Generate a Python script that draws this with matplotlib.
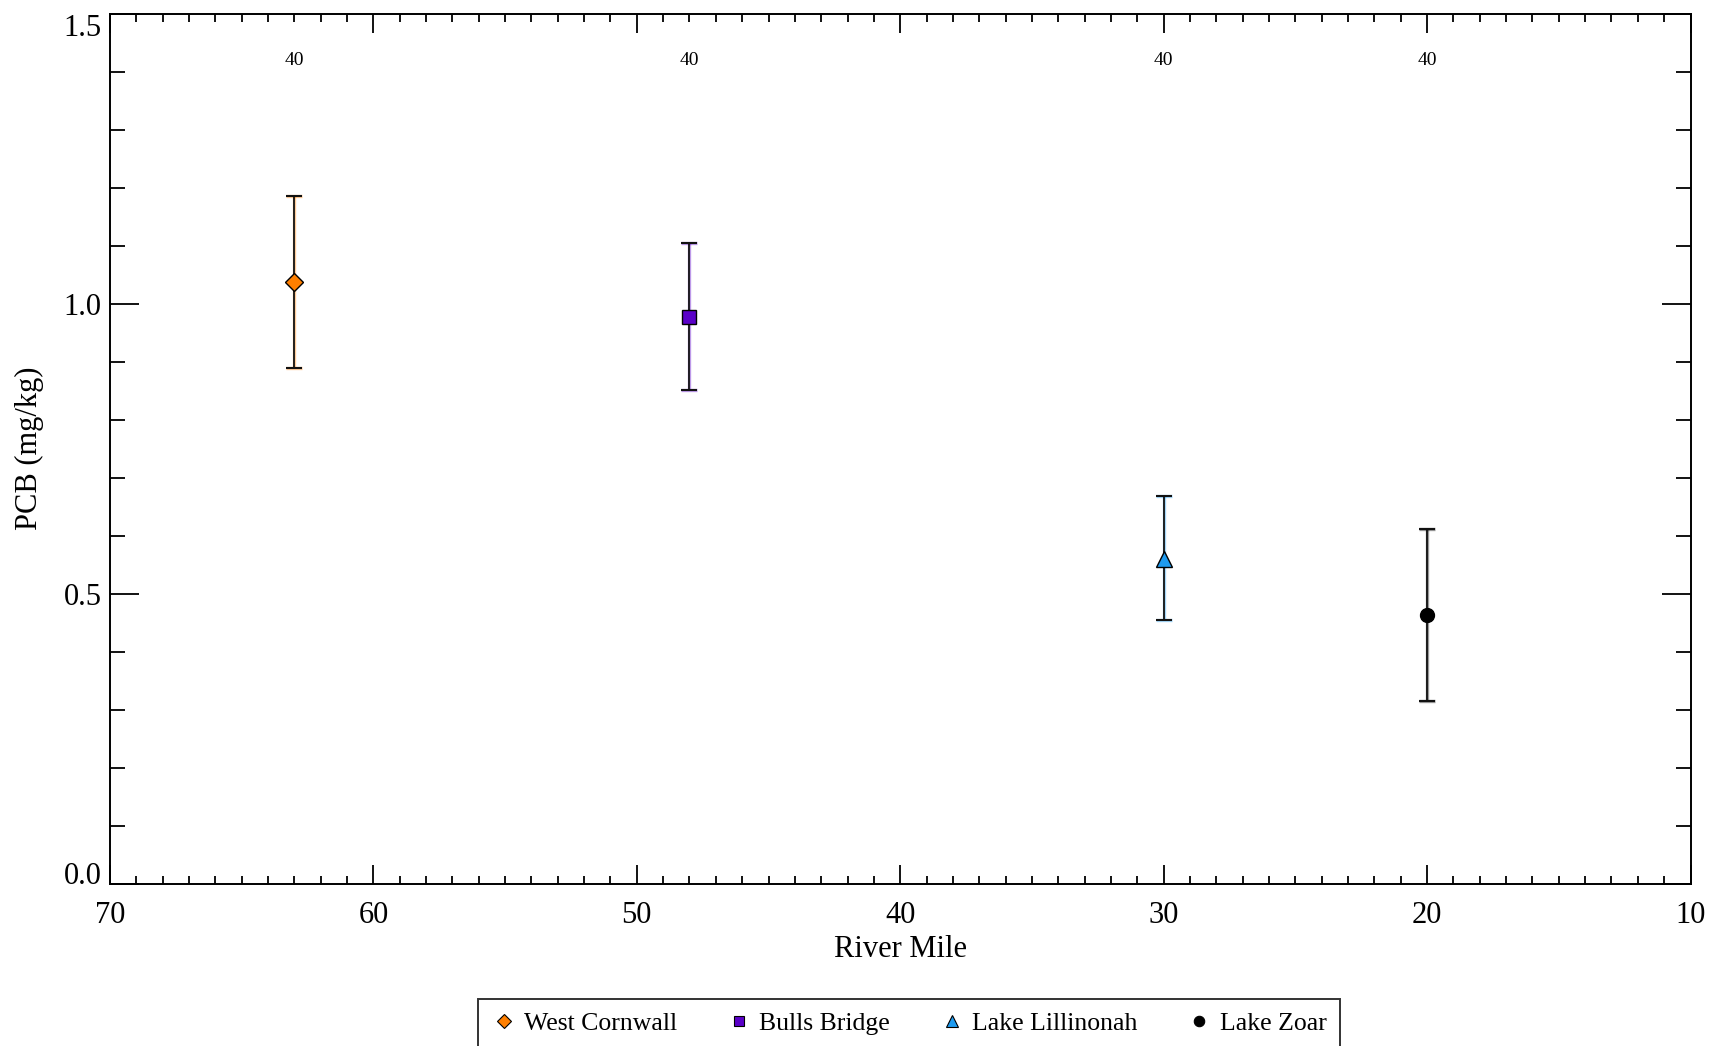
import matplotlib
matplotlib.use('Agg')
import matplotlib.pyplot as plt
from matplotlib.ticker import MultipleLocator, FormatStrFormatter

plt.rcParams['font.family'] = ['Liberation Serif', 'DejaVu Serif']

# PCB concentrations along the river (mean with upper/lower bounds)
stations = ['West Cornwall', 'Bulls Bridge', 'Lake Lillinonah', 'Lake Zoar']
river_mile = [63, 48, 30, 20]
pcb_mean = [1.037, 0.977, 0.560, 0.463]
pcb_upper = [1.185, 1.104, 0.669, 0.612]
pcb_lower = [0.890, 0.851, 0.454, 0.316]
sample_n = [40, 40, 40, 40]

colors = ['#FF7F00', '#5A00C8', '#1E9BF0', '#000000']
markers = ['D', 's', '^', 'o']
sizes = [9, 10, 11, 10]

fig = plt.figure(figsize=(17.18, 10.46), dpi=100)
ax = fig.add_axes([0.064, 0.155, 0.92, 0.832])

for i in range(len(stations)):
    yerr = [[pcb_mean[i] - pcb_lower[i]], [pcb_upper[i] - pcb_mean[i]]]
    # coloured halo under a dark bar
    ax.errorbar([river_mile[i]], [pcb_mean[i]], yerr=yerr, fmt='none',
                ecolor=colors[i], elinewidth=2.4, capsize=6, capthick=2.4, alpha=0.4)
    ax.errorbar([river_mile[i]], [pcb_mean[i]], yerr=yerr, fmt='none',
                ecolor='#111111', elinewidth=1.3, capsize=6, capthick=1.5)
    ax.plot([river_mile[i]], [pcb_mean[i]], linestyle='none', marker=markers[i],
            markersize=sizes[i], markerfacecolor=colors[i], markeredgecolor='black',
            markeredgewidth=1.0, zorder=5)
    ax.text(river_mile[i], 1.42, str(sample_n[i]), ha='center', va='center', fontsize=14)

ax.set_xlim(70, 10)
ax.set_ylim(0, 1.5)
ax.xaxis.set_major_locator(MultipleLocator(10))
ax.xaxis.set_minor_locator(MultipleLocator(1))
ax.yaxis.set_major_locator(MultipleLocator(0.5))
ax.yaxis.set_minor_locator(MultipleLocator(0.1))
ax.yaxis.set_major_formatter(FormatStrFormatter('%.1f'))

ax.tick_params(axis='both', which='both', direction='in', top=True, right=True, width=1.3)
ax.tick_params(axis='x', which='major', length=14, labelsize=22, pad=12)
ax.tick_params(axis='x', which='minor', length=6)
ax.tick_params(axis='y', which='major', length=21, labelsize=22, pad=6)
ax.tick_params(axis='y', which='minor', length=11)
for s in ax.spines.values():
    s.set_linewidth(1.4)

ax.set_xlabel('River Mile', fontsize=22, labelpad=4)
ax.set_ylabel('PCB (mg/kg)', fontsize=22, labelpad=14)

legend_handles = []
for i in range(len(stations)):
    lh, = ax.plot([], [], linestyle='none', marker=markers[i], markersize=sizes[i] * 0.75,
                  markerfacecolor=colors[i], markeredgecolor='black', markeredgewidth=0.8)
    legend_handles.append(lh)
leg = fig.legend(legend_handles, stations, loc='upper center', bbox_to_anchor=(0.529, 0.045),
                 ncol=4, fontsize=18.5, frameon=True, fancybox=False, edgecolor='black',
                 handletextpad=0.3, columnspacing=1.9, borderpad=0.5, handlelength=1.0,
                 borderaxespad=0)
leg.get_frame().set_linewidth(1.4)

# keep the end labels of the y axis inside the axis range
fig.canvas.draw()
for tick in ax.yaxis.get_major_ticks():
    if abs(tick.get_loc() - 0.0) < 1e-9:
        tick.label1.set_verticalalignment('baseline')
    elif abs(tick.get_loc() - 1.5) < 1e-9:
        tick.label1.set_verticalalignment('top')

fig.savefig('out.png', dpi=100)
